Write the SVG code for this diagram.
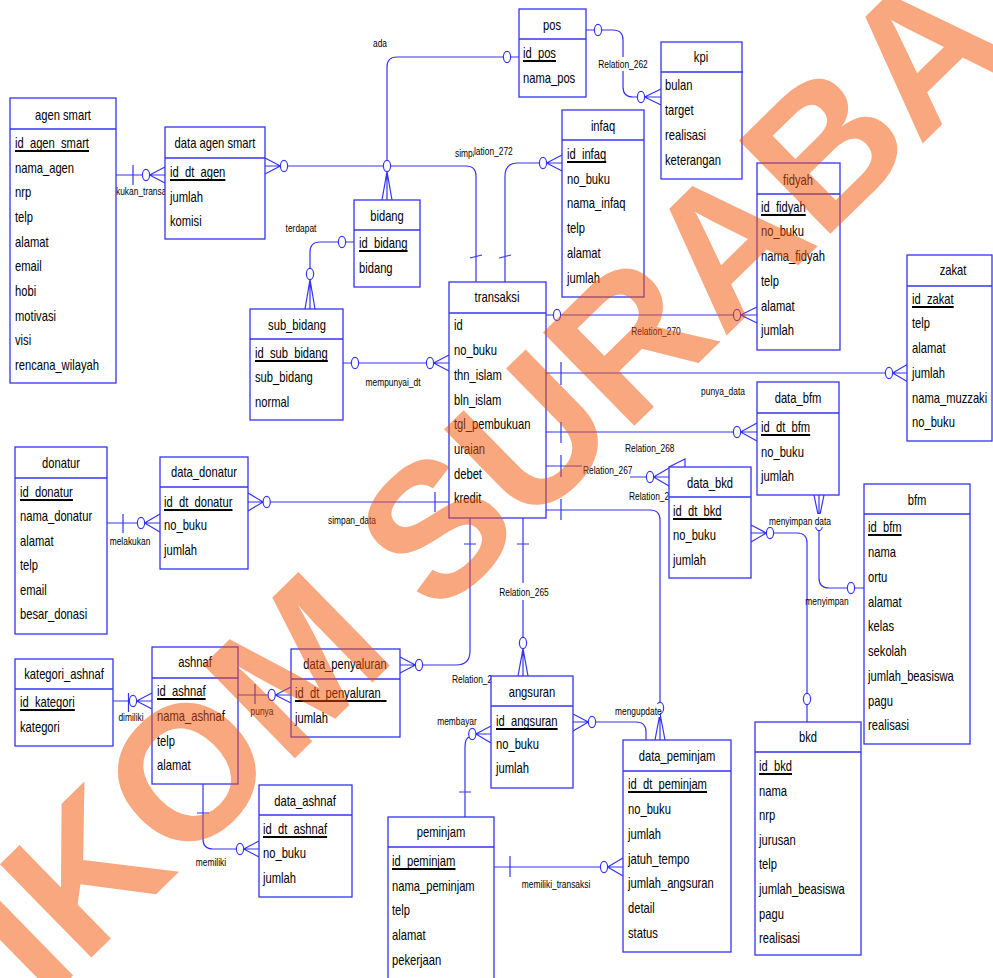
<svg xmlns="http://www.w3.org/2000/svg" width="993" height="978" viewBox="0 0 993 978">
<style>
.b{fill:#fff;stroke:#3434F4;stroke-width:1.3}
.h{stroke:#3434F4;stroke-width:1.3}
.c path{fill:none;stroke:#3434F4;stroke-width:1.2}
.c ellipse{fill:#fff;stroke:#3434F4;stroke-width:1.2}
text{font-family:'Liberation Sans',Arial,sans-serif;fill:#000}
.a{font-size:14px}
.t{font-size:14px;text-anchor:middle}
.l{font-size:10.5px}
.lm{font-size:10.5px;text-anchor:middle}
.u{stroke:#000;stroke-width:1.8}
.bg{fill:#fff}
.wm{font-size:190px;font-weight:bold;fill:#F55101;opacity:.5;text-anchor:middle}
</style>
<rect width="993" height="978" fill="#fff"/>
<g id="connectors" class="c">
<path d="M116,175H142.4M133,165V185M149.6,175H165M149.6,175L165,167M149.6,175L165,183"/>
<ellipse cx="146" cy="175" rx="3.6" ry="5.6"/>
<path d="M265,158L280.4,166M265,166H280.4M265,174L280.4,166M287.6,166H466Q476,166 476,176V282M470,258L482,255"/>
<ellipse cx="284" cy="166" rx="3.6" ry="5.6"/>
<path d="M519,57H510.6M503.4,57H397Q387,57 387,67V160.4M387,171.6L382,200M387,171.6V200M387,171.6L392,200"/>
<ellipse cx="507" cy="57" rx="3.6" ry="5.6"/>
<ellipse cx="387" cy="166" rx="3.6" ry="5.6"/>
<path d="M586,30H594.4M601.6,30H613Q623,30 623,40V87Q623,97 633,97H637.4M644.6,97L661,89M644.6,97H661M644.6,97L661,105"/>
<ellipse cx="598" cy="30" rx="3.6" ry="5.6"/>
<ellipse cx="641" cy="97" rx="3.6" ry="5.6"/>
<path d="M505,282V176Q505,163 518,163H539.4M546.6,163L562,155M546.6,163H562M546.6,163L562,171M499,258L511,255"/>
<ellipse cx="543" cy="163" rx="3.6" ry="5.6"/>
<path d="M546,315H553.4M560.6,315H733.4M740.6,315L757,307M740.6,315H757M740.6,315L757,323"/>
<ellipse cx="557" cy="315" rx="3.6" ry="5.6"/>
<ellipse cx="737" cy="315" rx="3.6" ry="5.6"/>
<path d="M546,373H885.4M561,362V385M892.6,373L908,364M892.6,373H908M892.6,373L908,382"/>
<ellipse cx="889" cy="373" rx="3.6" ry="5.6"/>
<path d="M546,432H733.4M561,422V443M740.6,432L757,423M740.6,432H757M740.6,432L757,441"/>
<ellipse cx="737" cy="432" rx="3.6" ry="5.6"/>
<path d="M546,466H582M561,455V477M630,477H646.4M653.6,477L669,468M653.6,477H669M653.6,477L669,486M669,467L685,459V467"/>
<ellipse cx="650" cy="477" rx="3.6" ry="5.6"/>
<path d="M546,510H650Q660,510 660,520V702.4M561,499V520M660,713.6L655,740M660,713.6V740M660,713.6L665,740"/>
<ellipse cx="660" cy="708" rx="3.6" ry="5.6"/>
<path d="M573,714L588.4,722M573,722H588.4M573,731L588.4,722M595.6,722H636Q646,722 646,732V740"/>
<ellipse cx="592" cy="722" rx="3.6" ry="5.6"/>
<path d="M523,518V637.4M517,544H529M523,648.6L518,676M523,648.6V676M523,648.6L528,676"/>
<ellipse cx="523" cy="643" rx="3.6" ry="5.6"/>
<path d="M470,518V651Q470,665 456,665H422.6M464,544H476M415.4,665L400,657M415.4,665H400M415.4,665L400,673"/>
<ellipse cx="419" cy="665" rx="3.6" ry="5.6"/>
<path d="M248,493L263.1,502M248,502H263.1M248,511L263.1,502M270.3,502H449M435,492V512"/>
<ellipse cx="266.7" cy="502" rx="3.6" ry="5.6"/>
<path d="M107,523H137.4M123,514V533M144.6,523L160,514M144.6,523H160M144.6,523L160,532"/>
<ellipse cx="141" cy="523" rx="3.6" ry="5.6"/>
<path d="M343,363H351.4M358.6,363H426.4M433.6,363L449,355M433.6,363H449M433.6,363L449,371"/>
<ellipse cx="355" cy="363" rx="3.6" ry="5.6"/>
<ellipse cx="430" cy="363" rx="3.6" ry="5.6"/>
<path d="M354,242H345.6M338.4,242H320Q310,242 310,252V268.4M310,279.6L305,309M310,279.6V309M310,279.6L315,309"/>
<ellipse cx="342" cy="242" rx="3.6" ry="5.6"/>
<ellipse cx="310" cy="274" rx="3.6" ry="5.6"/>
<path d="M113,701H129.4M128.5,693V712M136.6,701L152,693M136.6,701H152M136.6,701L152,709"/>
<ellipse cx="133" cy="701" rx="3.6" ry="5.6"/>
<path d="M238,695H268.1M255,684V704M275.3,695L291,687M275.3,695H291M275.3,695L291,703"/>
<ellipse cx="271.7" cy="695" rx="3.6" ry="5.6"/>
<path d="M203,784V839Q203,849 213,849H236.4M197,813H209M243.6,849L259,841M243.6,849H259M243.6,849L259,857"/>
<ellipse cx="240" cy="849" rx="3.6" ry="5.6"/>
<path d="M465,817V747Q465,738 469.5,737M459,792H471M475.9,734L491,726M475.9,734H491M475.9,734L491,743"/>
<ellipse cx="472.3" cy="734" rx="3.6" ry="5.6"/>
<path d="M494,867H600.4M510,856V877M607.6,867L623,858M607.6,867H623M607.6,867L623,876"/>
<ellipse cx="604" cy="867" rx="3.6" ry="5.6"/>
<path d="M751,525L766.4,533M751,533H766.4M751,542L766.4,533M773.6,533H797Q807,533 807,543V693.4M807,704.6V722"/>
<ellipse cx="770" cy="533" rx="3.6" ry="5.6"/>
<ellipse cx="807" cy="699" rx="3.6" ry="5.6"/>
<path d="M814,495L819,519.4M819,495V519.4M824,495L819,519.4M819,530.6V578Q819,588 829,588H847.4M854.6,588H864"/>
<ellipse cx="819" cy="525" rx="3.6" ry="5.6"/>
<ellipse cx="851" cy="588" rx="3.6" ry="5.6"/>
<rect class="bg" x="600" y="57" width="47" height="14"/>
<rect class="bg" x="499" y="583" width="50" height="17"/>
<rect class="bg" x="767" y="514" width="65" height="13"/>
<rect class="bg" x="614" y="704" width="46" height="13"/>
<text class="l" transform="translate(116,195) scale(.8,1)">kukan_transa</text>
<text class="lm" transform="translate(380,47) scale(.8,1)">ada</text>
<text class="lm" transform="translate(623,68) scale(.8,1)">Relation_262</text>
<text class="l" transform="translate(455,157) scale(.8,1)">simpan</text>
<rect class="bg" x="474" y="146" width="47" height="11"/>
<text class="l" transform="translate(474,155) scale(.8,1)">lation_272</text>
<text class="lm" transform="translate(301,232) scale(.8,1)">terdapat</text>
<text class="lm" transform="translate(393,386) scale(.8,1)">mempunyai_dt</text>
<text class="lm" transform="translate(656,335) scale(.8,1)">Relation_270</text>
<text class="lm" transform="translate(723,395) scale(.8,1)">punya_data</text>
<text class="l" transform="translate(625,452) scale(.8,1)">Relation_268</text>
<text class="l" transform="translate(583,474) scale(.8,1)">Relation_267</text>
<text class="l" transform="translate(629,500) scale(.8,1)">Relation_2</text>
<text class="lm" transform="translate(352,524) scale(.8,1)">simpan_data</text>
<text class="lm" transform="translate(130,545) scale(.8,1)">melakukan</text>
<text class="lm" transform="translate(800,525) scale(.8,1)">menyimpan data</text>
<text class="lm" transform="translate(827,605) scale(.8,1)">menyimpan</text>
<text class="lm" transform="translate(524,596) scale(.8,1)">Relation_265</text>
<text class="l" transform="translate(452,683) scale(.8,1)">Relation_2</text>
<text class="l" transform="translate(615,715) scale(.8,1)">mengupdate</text>
<text class="lm" transform="translate(457,725) scale(.8,1)">membayar</text>
<text class="lm" transform="translate(131,721) scale(.8,1)">dimiliki</text>
<text class="lm" transform="translate(262,715) scale(.8,1)">punya</text>
<text class="lm" transform="translate(211,866) scale(.8,1)">memiliki</text>
<text class="lm" transform="translate(556,888) scale(.8,1)">memiliki_transaksi</text>
</g>
<g id="agen_smart">
<rect class="b" x="10" y="98" width="106" height="285"/>
<line class="h" x1="10" y1="129" x2="116" y2="129"/>
<text class="t" transform="translate(63,120) scale(.8,1)">agen smart</text>
<text class="a" transform="translate(15,148) scale(.8,1)">id_agen_smart</text>
<line class="u" x1="15" y1="151" x2="89" y2="151"/>
<text class="a" transform="translate(15,173) scale(.8,1)">nama_agen</text>
<text class="a" transform="translate(15,197) scale(.8,1)">nrp</text>
<text class="a" transform="translate(15,222) scale(.8,1)">telp</text>
<text class="a" transform="translate(15,247) scale(.8,1)">alamat</text>
<text class="a" transform="translate(15,271) scale(.8,1)">email</text>
<text class="a" transform="translate(15,296) scale(.8,1)">hobi</text>
<text class="a" transform="translate(15,321) scale(.8,1)">motivasi</text>
<text class="a" transform="translate(15,345) scale(.8,1)">visi</text>
<text class="a" transform="translate(15,370) scale(.8,1)">rencana_wilayah</text>
</g>
<g id="data_agen_smart">
<rect class="b" x="165" y="127" width="100" height="112"/>
<line class="h" x1="165" y1="158" x2="265" y2="158"/>
<text class="t" transform="translate(215,148) scale(.8,1)">data agen smart</text>
<text class="a" transform="translate(170,177) scale(.8,1)">id_dt_agen</text>
<line class="u" x1="170" y1="180" x2="225.4" y2="180"/>
<text class="a" transform="translate(170,202) scale(.8,1)">jumlah</text>
<text class="a" transform="translate(170,226) scale(.8,1)">komisi</text>
</g>
<g id="pos">
<rect class="b" x="519" y="9" width="67" height="88"/>
<line class="h" x1="519" y1="39" x2="586" y2="39"/>
<text class="t" transform="translate(552,30) scale(.8,1)">pos</text>
<text class="a" transform="translate(523,58) scale(.8,1)">id_pos</text>
<line class="u" x1="523" y1="61" x2="556" y2="61"/>
<text class="a" transform="translate(523,83) scale(.8,1)">nama_pos</text>
</g>
<g id="kpi">
<rect class="b" x="661" y="42" width="81" height="137"/>
<line class="h" x1="661" y1="72" x2="743" y2="72"/>
<text class="t" transform="translate(701,62) scale(.8,1)">kpi</text>
<text class="a" transform="translate(665,90) scale(.8,1)">bulan</text>
<text class="a" transform="translate(665,115) scale(.8,1)">target</text>
<text class="a" transform="translate(665,140) scale(.8,1)">realisasi</text>
<text class="a" transform="translate(665,165) scale(.8,1)">keterangan</text>
</g>
<g id="infaq">
<rect class="b" x="562" y="110" width="82" height="187"/>
<line class="h" x1="562" y1="140" x2="644" y2="140"/>
<text class="t" transform="translate(603,131) scale(.8,1)">infaq</text>
<text class="a" transform="translate(567,159) scale(.8,1)">id_infaq</text>
<line class="u" x1="567" y1="162" x2="606.2" y2="162"/>
<text class="a" transform="translate(567,184) scale(.8,1)">no_buku</text>
<text class="a" transform="translate(567,208) scale(.8,1)">nama_infaq</text>
<text class="a" transform="translate(567,233) scale(.8,1)">telp</text>
<text class="a" transform="translate(567,258) scale(.8,1)">alamat</text>
<text class="a" transform="translate(567,283) scale(.8,1)">jumlah</text>
</g>
<g id="fidyah">
<rect class="b" x="757" y="163" width="83" height="187"/>
<line class="h" x1="757" y1="194" x2="840" y2="194"/>
<text class="t" transform="translate(798,185) scale(.8,1)">fidyah</text>
<text class="a" transform="translate(761,212) scale(.8,1)">id_fidyah</text>
<line class="u" x1="761" y1="215" x2="805.8" y2="215"/>
<text class="a" transform="translate(761,236) scale(.8,1)">no_buku</text>
<text class="a" transform="translate(761,261) scale(.8,1)">nama_fidyah</text>
<text class="a" transform="translate(761,286) scale(.8,1)">telp</text>
<text class="a" transform="translate(761,311) scale(.8,1)">alamat</text>
<text class="a" transform="translate(761,335) scale(.8,1)">jumlah</text>
</g>
<g id="zakat">
<rect class="b" x="907" y="255" width="85" height="186"/>
<line class="h" x1="907" y1="286" x2="992" y2="286"/>
<text class="t" transform="translate(953,275) scale(.8,1)">zakat</text>
<text class="a" transform="translate(912,304) scale(.8,1)">id_zakat</text>
<line class="u" x1="912" y1="307" x2="953.7" y2="307"/>
<text class="a" transform="translate(912,328) scale(.8,1)">telp</text>
<text class="a" transform="translate(912,353) scale(.8,1)">alamat</text>
<text class="a" transform="translate(912,378) scale(.8,1)">jumlah</text>
<text class="a" transform="translate(912,403) scale(.8,1)">nama_muzzaki</text>
<text class="a" transform="translate(912,427) scale(.8,1)">no_buku</text>
</g>
<g id="bidang">
<rect class="b" x="354" y="200" width="66" height="87"/>
<line class="h" x1="354" y1="230" x2="420" y2="230"/>
<text class="t" transform="translate(387,221) scale(.8,1)">bidang</text>
<text class="a" transform="translate(359,248) scale(.8,1)">id_bidang</text>
<line class="u" x1="359" y1="251" x2="407.6" y2="251"/>
<text class="a" transform="translate(359,273) scale(.8,1)">bidang</text>
</g>
<g id="sub_bidang">
<rect class="b" x="250" y="309" width="93" height="111"/>
<line class="h" x1="250" y1="339" x2="343" y2="339"/>
<text class="t" transform="translate(297,330) scale(.8,1)">sub_bidang</text>
<text class="a" transform="translate(255,358) scale(.8,1)">id_sub_bidang</text>
<line class="u" x1="255" y1="361" x2="327.8" y2="361"/>
<text class="a" transform="translate(255,382) scale(.8,1)">sub_bidang</text>
<text class="a" transform="translate(255,407) scale(.8,1)">normal</text>
</g>
<g id="transaksi">
<rect class="b" x="449" y="282" width="97" height="236"/>
<line class="h" x1="449" y1="313" x2="546" y2="313"/>
<text class="t" transform="translate(497,302) scale(.8,1)">transaksi</text>
<text class="a" transform="translate(454,330) scale(.8,1)">id</text>
<text class="a" transform="translate(454,355) scale(.8,1)">no_buku</text>
<text class="a" transform="translate(454,380) scale(.8,1)">thn_islam</text>
<text class="a" transform="translate(454,405) scale(.8,1)">bln_islam</text>
<text class="a" transform="translate(454,429) scale(.8,1)">tgl_pembukuan</text>
<text class="a" transform="translate(454,454) scale(.8,1)">uraian</text>
<text class="a" transform="translate(454,479) scale(.8,1)">debet</text>
<text class="a" transform="translate(454,503) scale(.8,1)">kredit</text>
</g>
<g id="data_bfm">
<rect class="b" x="757" y="382" width="82" height="113"/>
<line class="h" x1="757" y1="413" x2="839" y2="413"/>
<text class="t" transform="translate(798,403) scale(.8,1)">data_bfm</text>
<text class="a" transform="translate(761,432) scale(.8,1)">id_dt_bfm</text>
<line class="u" x1="761" y1="435" x2="810.2" y2="435"/>
<text class="a" transform="translate(761,457) scale(.8,1)">no_buku</text>
<text class="a" transform="translate(761,481) scale(.8,1)">jumlah</text>
</g>
<g id="data_bkd">
<rect class="b" x="669" y="467" width="82" height="111"/>
<line class="h" x1="669" y1="497" x2="751" y2="497"/>
<text class="t" transform="translate(710,488) scale(.8,1)">data_bkd</text>
<text class="a" transform="translate(673,516) scale(.8,1)">id_dt_bkd</text>
<line class="u" x1="673" y1="519" x2="721.6" y2="519"/>
<text class="a" transform="translate(673,540) scale(.8,1)">no_buku</text>
<text class="a" transform="translate(673,565) scale(.8,1)">jumlah</text>
</g>
<g id="bfm">
<rect class="b" x="864" y="484" width="106" height="260"/>
<line class="h" x1="864" y1="514" x2="970" y2="514"/>
<text class="t" transform="translate(917,505) scale(.8,1)">bfm</text>
<text class="a" transform="translate(868,532) scale(.8,1)">id_bfm</text>
<line class="u" x1="868" y1="535" x2="901.6" y2="535"/>
<text class="a" transform="translate(868,557) scale(.8,1)">nama</text>
<text class="a" transform="translate(868,582) scale(.8,1)">ortu</text>
<text class="a" transform="translate(868,607) scale(.8,1)">alamat</text>
<text class="a" transform="translate(868,631) scale(.8,1)">kelas</text>
<text class="a" transform="translate(868,656) scale(.8,1)">sekolah</text>
<text class="a" transform="translate(868,681) scale(.8,1)">jumlah_beasiswa</text>
<text class="a" transform="translate(868,706) scale(.8,1)">pagu</text>
<text class="a" transform="translate(868,730) scale(.8,1)">realisasi</text>
</g>
<g id="bkd">
<rect class="b" x="755" y="722" width="106" height="233"/>
<line class="h" x1="755" y1="752" x2="861" y2="752"/>
<text class="t" transform="translate(808,742) scale(.8,1)">bkd</text>
<text class="a" transform="translate(759,771) scale(.8,1)">id_bkd</text>
<line class="u" x1="759" y1="774" x2="792" y2="774"/>
<text class="a" transform="translate(759,796) scale(.8,1)">nama</text>
<text class="a" transform="translate(759,820) scale(.8,1)">nrp</text>
<text class="a" transform="translate(759,845) scale(.8,1)">jurusan</text>
<text class="a" transform="translate(759,869) scale(.8,1)">telp</text>
<text class="a" transform="translate(759,894) scale(.8,1)">jumlah_beasiswa</text>
<text class="a" transform="translate(759,919) scale(.8,1)">pagu</text>
<text class="a" transform="translate(759,943) scale(.8,1)">realisasi</text>
</g>
<g id="data_peminjam">
<rect class="b" x="623" y="740" width="108" height="212"/>
<line class="h" x1="623" y1="771" x2="731" y2="771"/>
<text class="t" transform="translate(677,761) scale(.8,1)">data_peminjam</text>
<text class="a" transform="translate(628,789) scale(.8,1)">id_dt_peminjam</text>
<line class="u" x1="628" y1="792" x2="707" y2="792"/>
<text class="a" transform="translate(628,814) scale(.8,1)">no_buku</text>
<text class="a" transform="translate(628,839) scale(.8,1)">jumlah</text>
<text class="a" transform="translate(628,864) scale(.8,1)">jatuh_tempo</text>
<text class="a" transform="translate(628,888) scale(.8,1)">jumlah_angsuran</text>
<text class="a" transform="translate(628,913) scale(.8,1)">detail</text>
<text class="a" transform="translate(628,938) scale(.8,1)">status</text>
</g>
<g id="angsuran">
<rect class="b" x="491" y="676" width="82" height="112"/>
<line class="h" x1="491" y1="706" x2="573" y2="706"/>
<text class="t" transform="translate(532,697) scale(.8,1)">angsuran</text>
<text class="a" transform="translate(496,726) scale(.8,1)">id_angsuran</text>
<line class="u" x1="496" y1="729" x2="557.6" y2="729"/>
<text class="a" transform="translate(496,749) scale(.8,1)">no_buku</text>
<text class="a" transform="translate(496,773) scale(.8,1)">jumlah</text>
</g>
<g id="peminjam">
<rect class="b" x="388" y="817" width="106" height="175"/>
<line class="h" x1="388" y1="847" x2="494" y2="847"/>
<text class="t" transform="translate(441,837) scale(.8,1)">peminjam</text>
<text class="a" transform="translate(392,866) scale(.8,1)">id_peminjam</text>
<line class="u" x1="392" y1="869" x2="455.5" y2="869"/>
<text class="a" transform="translate(392,891) scale(.8,1)">nama_peminjam</text>
<text class="a" transform="translate(392,915) scale(.8,1)">telp</text>
<text class="a" transform="translate(392,940) scale(.8,1)">alamat</text>
<text class="a" transform="translate(392,965) scale(.8,1)">pekerjaan</text>
</g>
<g id="data_penyaluran">
<rect class="b" x="291" y="649" width="109" height="88"/>
<line class="h" x1="291" y1="679" x2="400" y2="679"/>
<text class="t" transform="translate(345,669) scale(.8,1)">data_penyaluran</text>
<text class="a" transform="translate(295,698) scale(.8,1)">id_dt_penyaluran</text>
<line class="u" x1="295" y1="701" x2="386.5" y2="701"/>
<text class="a" transform="translate(295,723) scale(.8,1)">jumlah</text>
</g>
<g id="ashnaf">
<rect class="b" x="152" y="647" width="86" height="137"/>
<line class="h" x1="152" y1="678" x2="238" y2="678"/>
<text class="t" transform="translate(195,667) scale(.8,1)">ashnaf</text>
<text class="a" transform="translate(157,696) scale(.8,1)">id_ashnaf</text>
<line class="u" x1="157" y1="699" x2="205.6" y2="699"/>
<text class="a" transform="translate(157,721) scale(.8,1)">nama_ashnaf</text>
<text class="a" transform="translate(157,746) scale(.8,1)">telp</text>
<text class="a" transform="translate(157,770) scale(.8,1)">alamat</text>
</g>
<g id="kategori_ashnaf">
<rect class="b" x="15" y="659" width="98" height="87"/>
<line class="h" x1="15" y1="689" x2="113" y2="689"/>
<text class="t" transform="translate(64,679) scale(.8,1)">kategori_ashnaf</text>
<text class="a" transform="translate(20,707) scale(.8,1)">id_kategori</text>
<line class="u" x1="20" y1="710" x2="74.8" y2="710"/>
<text class="a" transform="translate(20,732) scale(.8,1)">kategori</text>
</g>
<g id="data_ashnaf">
<rect class="b" x="259" y="785" width="93" height="112"/>
<line class="h" x1="259" y1="815" x2="352" y2="815"/>
<text class="t" transform="translate(305,806) scale(.8,1)">data_ashnaf</text>
<text class="a" transform="translate(263,834) scale(.8,1)">id_dt_ashnaf</text>
<line class="u" x1="263" y1="837" x2="327.1" y2="837"/>
<text class="a" transform="translate(263,858) scale(.8,1)">no_buku</text>
<text class="a" transform="translate(263,883) scale(.8,1)">jumlah</text>
</g>
<g id="donatur">
<rect class="b" x="15" y="447" width="92" height="187"/>
<line class="h" x1="15" y1="478" x2="107" y2="478"/>
<text class="t" transform="translate(61,468) scale(.8,1)">donatur</text>
<text class="a" transform="translate(20,497) scale(.8,1)">id_donatur</text>
<line class="u" x1="20" y1="500" x2="72.9" y2="500"/>
<text class="a" transform="translate(20,521) scale(.8,1)">nama_donatur</text>
<text class="a" transform="translate(20,546) scale(.8,1)">alamat</text>
<text class="a" transform="translate(20,570) scale(.8,1)">telp</text>
<text class="a" transform="translate(20,595) scale(.8,1)">email</text>
<text class="a" transform="translate(20,619) scale(.8,1)">besar_donasi</text>
</g>
<g id="data_donatur">
<rect class="b" x="160" y="457" width="88" height="112"/>
<line class="h" x1="160" y1="487" x2="248" y2="487"/>
<text class="t" transform="translate(204,477) scale(.8,1)">data_donatur</text>
<text class="a" transform="translate(164,507) scale(.8,1)">id_dt_donatur</text>
<line class="u" x1="164" y1="510" x2="232.5" y2="510"/>
<text class="a" transform="translate(164,530) scale(.8,1)">no_buku</text>
<text class="a" transform="translate(164,555) scale(.8,1)">jumlah</text>
</g>
<g id="watermark">
<text class="wm" transform="translate(526,532) rotate(-44.4)">STIKOM SURABAYA</text>
</g>
</svg>
